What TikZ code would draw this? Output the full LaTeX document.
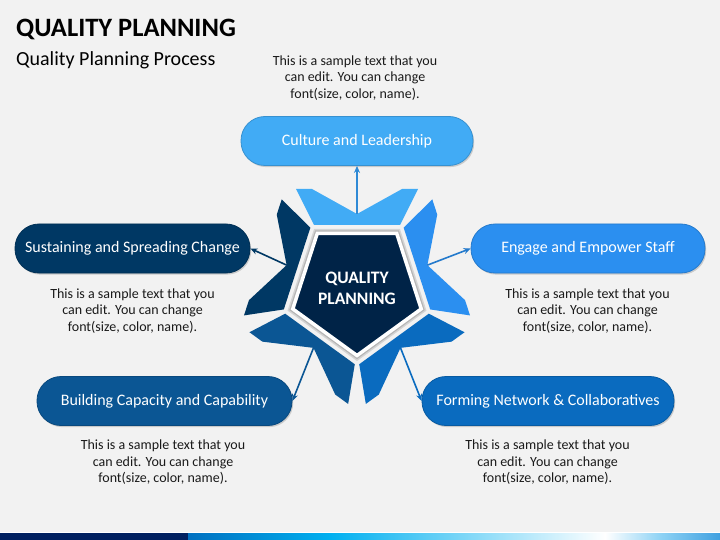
\documentclass[tikz,border=0pt]{standalone}
\usepackage{fontspec}
\setmainfont{Carlito}
\usetikzlibrary{shadows,arrows.meta}
\definecolor{bg}{HTML}{F2F2F2}
\definecolor{cA}{HTML}{41ABF5}
\definecolor{cB}{HTML}{003864}
\definecolor{cC}{HTML}{0B5694}
\definecolor{cD}{HTML}{0A6BBF}
\definecolor{cE}{HTML}{2B8FF0}
\definecolor{aA}{HTML}{2F8AD6}
\definecolor{pent}{HTML}{002347}
\definecolor{barN}{HTML}{002060}
\definecolor{barB}{HTML}{0070C0}
\definecolor{barC}{HTML}{00B0F0}
\definecolor{barL}{HTML}{8FD3F5}
\definecolor{barR}{HTML}{3FA0E0}
\definecolor{txt}{HTML}{1A1A1A}
\begin{document}
\begin{tikzpicture}[x=1pt,y=-1pt,
  box/.style={rounded corners=24pt, minimum height=49pt, inner sep=0pt, text=white,
    font=\fontsize{16}{18}\selectfont, line width=0.8pt,
    drop shadow={shadow xshift=1.2pt,shadow yshift=-1.6pt,opacity=0.35}},
  desc/.style={align=center, font=\fontsize{14}{16.5}\selectfont, text=txt, inner sep=0pt},
  conn/.style={line width=1.6pt, -{Stealth[length=7pt,width=6pt]}},
]
\useasboundingbox (0,0) rectangle (720,540);
\fill[bg] (0,0) rectangle (720,540);

% title
\node[anchor=base west, inner sep=0pt, font=\fontsize{26.5}{30}\selectfont\bfseries] (t) at (16,37) {QUALITY PLANNING};
\node[anchor=base west, inner sep=0pt, font=\fontsize{20}{24}\selectfont] (st) at (16,66) {Quality Planning Process};

% petals
\def\petalpath{(-43,-63) -- (43,-63) -- (61,-99) -- (45,-99) -- (0,-74) -- (-45,-99) -- (-61,-99) -- cycle}
\begin{scope}[shift={(357,288)}]
  \begin{scope}[rotate=0]
    \fill[cA, line join=miter] \petalpath; \coordinate (n0) at (0,-74);
  \end{scope}
  \begin{scope}[rotate=72]
    \fill[cB, line join=miter] \petalpath; \coordinate (n1) at (0,-74);
  \end{scope}
  \begin{scope}[rotate=144]
    \fill[cC, line join=miter] \petalpath; \coordinate (n2) at (0,-74);
  \end{scope}
  \begin{scope}[rotate=216]
    \fill[cD, line join=miter] \petalpath; \coordinate (n3) at (0,-74);
  \end{scope}
  \begin{scope}[rotate=288]
    \fill[cE, line join=miter] \petalpath; \coordinate (n4) at (0,-74);
  \end{scope}
\end{scope}

% pentagon
\def\pentpath{(357,355.5) -- (421.2,308.9) -- (396.7,233.4) -- (317.3,233.4) -- (292.8,308.9) -- cycle}
\draw[line width=9pt, draw=black, opacity=0.12, line join=miter] \pentpath;
\draw[line width=6pt, draw=black, opacity=0.15, line join=miter] \pentpath;
\filldraw[fill=pent, draw=white, line width=3.5pt, line join=miter] \pentpath;
\node[align=center, text=white, font=\fontsize{17.5}{21}\selectfont\bfseries] (q) at (357,288) {QUALITY\\PLANNING};

% boxes
\node[box, fill=cA, draw=cA!85!black, minimum width=232pt] (b1) at (357,141) {Culture and Leadership};
\node[box, fill=cB, draw=cB!85!black, minimum width=235pt] (b2) at (132.5,248.5) {Sustaining and Spreading Change};
\node[box, fill=cE, draw=cE!85!black, minimum width=234pt] (b3) at (588,248.5) {Engage and Empower Staff};
\node[box, fill=cC, draw=cC!85!black, minimum width=255pt] (b4) at (164.5,401) {Building Capacity and Capability};
\node[box, fill=cD, draw=cD!85!black, minimum width=252pt] (b5) at (548,401) {Forming Network \& Collaboratives};

% descriptions
\node[desc] (d1) at (355,78) {This is a sample text that you\\can edit. You can change\\font(size, color, name).};
\node[desc] (d2) at (132.5,311) {This is a sample text that you\\can edit. You can change\\font(size, color, name).};
\node[desc] (d3) at (587.5,311) {This is a sample text that you\\can edit. You can change\\font(size, color, name).};
\node[desc] (d4) at (163,462.5) {This is a sample text that you\\can edit. You can change\\font(size, color, name).};
\node[desc] (d5) at (547.5,462.5) {This is a sample text that you\\can edit. You can change\\font(size, color, name).};

% connectors
\draw[conn, aA] (n0) -- (b1.south);
\draw[conn, cB] (n1) -- (b2.east);
\draw[conn, cE!85!black] (n4) -- (b3.west);
\draw[conn, cC] (n2) -- (b4.east);
\draw[conn, cD] (n3) -- (b5.west);

% bottom bar
\fill[white] (0,532) rectangle (720,533);
\fill[barN] (0,533) rectangle (188,540);
\shade[left color=barB, right color=barC] (188,533) rectangle (330,540);
\shade[left color=barC, right color=white] (330,533) rectangle (605,540);
\shade[left color=white, right color=barL] (605,533) rectangle (660,540);
\shade[left color=barL, right color=barR] (660,533) rectangle (720,540);
\end{tikzpicture}
\end{document}
